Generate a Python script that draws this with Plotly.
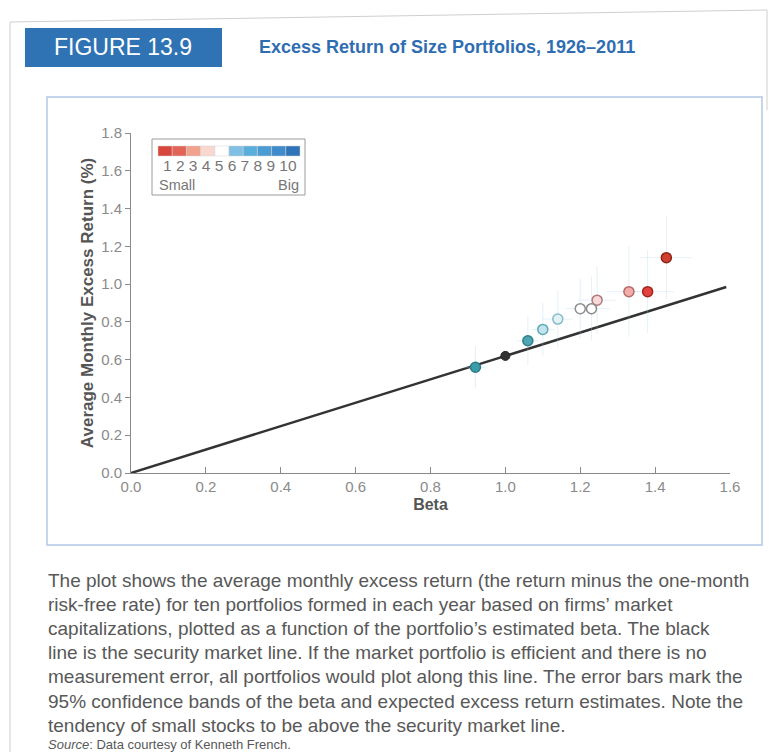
import plotly.graph_objects as go

# size portfolios, 1 = small ... 10 = big
portfolios = ["1", "2", "3", "4", "5", "6", "7", "8", "9", "10"]
beta = [1.43, 1.38, 1.33, 1.245, 1.23, 1.20, 1.14, 1.10, 1.06, 0.92]
excess_return = [1.14, 0.96, 0.96, 0.915, 0.87, 0.87, 0.815, 0.76, 0.70, 0.56]
beta_err = [0.07, 0.07, 0.06, 0.05, 0.05, 0.04, 0.04, 0.03, 0.03, 0.03]
return_err = [0.22, 0.22, 0.24, 0.18, 0.17, 0.16, 0.15, 0.14, 0.13, 0.11]
marker_fill = ["#d0402f", "#e2433f", "#f2adab", "#f7d9d9", "#ffffff",
               "#ffffff", "#e2f1f4", "#c4e4ec", "#4ea6b5", "#3c9ba8"]
marker_edge = ["#8f2318", "#a3241f", "#b56a66", "#b07a7a", "#8a8a8a",
               "#8f8f8f", "#86bccb", "#5ea9ba", "#2f7f8c", "#2b7c88"]

legend_colors = ["#d8473b", "#e26456", "#f0a28c", "#fad8d0", "#ffffff",
                 "#7fc0e4", "#5aaedc", "#4a9cd4", "#3f8ccc", "#2f74b8"]

market_beta = [1.0]
market_return = [0.62]

sml_beta = [0.0, 1.59]
sml_return = [0.0, 0.985]

caption_lines = [
    "The plot shows the average monthly excess return (the return minus the one-month",
    "risk-free rate) for ten portfolios formed in each year based on firms’ market",
    "capitalizations, plotted as a function of the portfolio’s estimated beta. The black",
    "line is the security market line. If the market portfolio is efficient and there is no",
    "measurement error, all portfolios would plot along this line. The error bars mark the",
    "95% confidence bands of the beta and expected excess return estimates. Note the",
    "tendency of small stocks to be above the security market line.",
]

# plot area in pixels
PL, PR, PT, PB = 131, 730, 133, 473


def px(x):
    return (x - PL) / (PR - PL)


def py(y):
    return (PB - y) / (PB - PT)


fig = go.Figure()

fig.add_trace(go.Scatter(
    x=sml_beta, y=sml_return, mode="lines",
    line=dict(color="#333333", width=2.5),
    cliponaxis=False, hoverinfo="skip",
))

fig.add_trace(go.Scatter(
    x=beta, y=excess_return, mode="markers",
    text=portfolios,
    error_x=dict(type="data", array=beta_err, color="rgba(170,210,232,0.3)",
                 thickness=1, width=0),
    error_y=dict(type="data", array=return_err, color="rgba(170,210,232,0.3)",
                 thickness=1, width=0),
    marker=dict(size=10, color=marker_fill,
                line=dict(color=marker_edge, width=1.5)),
))

fig.add_trace(go.Scatter(
    x=market_beta, y=market_return, mode="markers",
    marker=dict(size=9, color="#333333", line=dict(color="#222222", width=1)),
))

shapes = []
annotations = []

# page edges from the scan
shapes.append(dict(type="path", xref="paper", yref="paper",
                   path=f"M {px(10)},{py(752)} L {px(10)},{py(22)} L {px(767)},{py(10)} L {px(767)},{py(110)}",
                   line=dict(color="#cfcfcf", width=1)))

# outer frame around the chart
shapes.append(dict(type="rect", xref="paper", yref="paper",
                   x0=px(47), x1=px(762), y0=py(545), y1=py(97),
                   line=dict(color="#b3c7e6", width=1.5), layer="below"))

# figure header
shapes.append(dict(type="rect", xref="paper", yref="paper",
                   x0=px(25), x1=px(222), y0=py(67), y1=py(28),
                   fillcolor="#2f73b4", line=dict(width=0)))
annotations.append(dict(text="FIGURE 13.9", xref="paper", yref="paper",
                        x=px(123), y=py(47), xanchor="center", yanchor="middle",
                        showarrow=False,
                        font=dict(family="Liberation Sans", size=23, color="white")))
annotations.append(dict(text="<b>Excess Return of Size Portfolios, 1926–2011</b>",
                        xref="paper", yref="paper", x=px(257), y=py(47),
                        xanchor="left", yanchor="middle", showarrow=False,
                        font=dict(family="Liberation Sans", size=18, color="#2f6db2")))

# size legend
shapes.append(dict(type="rect", xref="paper", yref="paper",
                   x0=px(152), x1=px(305), y0=py(195), y1=py(139),
                   fillcolor="white", line=dict(color="#9a9a9a", width=1)))
cell_w = (300 - 158) / len(legend_colors)
for i, c in enumerate(legend_colors):
    x0 = 158 + i * cell_w
    shapes.append(dict(type="rect", xref="paper", yref="paper",
                       x0=px(x0), x1=px(x0 + cell_w), y0=py(156), y1=py(146),
                       fillcolor=c, line=dict(color="#d0d0d0", width=0.5)))
annotations.append(dict(text=" ".join(portfolios), xref="paper", yref="paper",
                        x=px(230), y=py(175), xanchor="center", yanchor="bottom",
                        showarrow=False, borderpad=0,
                        font=dict(family="Liberation Sans", size=15.5, color="#777777")))
annotations.append(dict(text="Small", xref="paper", yref="paper", x=px(158), y=py(175.5),
                        xanchor="left", yanchor="top", showarrow=False, borderpad=0,
                        font=dict(family="Liberation Sans", size=14.5, color="#777777")))
annotations.append(dict(text="Big", xref="paper", yref="paper", x=px(300), y=py(175.5),
                        xanchor="right", yanchor="top", showarrow=False, borderpad=0,
                        font=dict(family="Liberation Sans", size=14.5, color="#777777")))

# caption below the frame
for i, line in enumerate(caption_lines):
    annotations.append(dict(text=line, xref="paper", yref="paper",
                            x=px(46), y=py(580 + i * 24.2), xanchor="left",
                            yanchor="middle", showarrow=False,
                            font=dict(family="Liberation Sans", size=19, color="#585858")))
annotations.append(dict(text="<i>Source</i>: Data courtesy of Kenneth French.",
                        xref="paper", yref="paper", x=px(46), y=py(744),
                        xanchor="left", yanchor="middle", showarrow=False,
                        font=dict(family="Liberation Sans", size=13, color="#585858")))

fig.update_layout(
    width=774, height=752,
    margin=dict(l=PL, r=774 - PR, t=PT, b=752 - PB),
    paper_bgcolor="white", plot_bgcolor="white",
    showlegend=False,
    shapes=shapes, annotations=annotations,
    font=dict(family="Liberation Sans"),
)
fig.update_xaxes(
    range=[0, 1.6], dtick=0.2, tickformat=".1f",
    showgrid=False, zeroline=False, showline=True, linecolor="#8a8a8a", linewidth=1,
    ticks="inside", ticklen=6, tickcolor="#8a8a8a",
    tickfont=dict(size=15, color="#8a8a8a"),
    title=dict(text="<b>Beta</b>", standoff=4, font=dict(size=16, color="#555555")),
)
fig.update_yaxes(
    range=[0, 1.8], dtick=0.2, tickformat=".1f",
    showgrid=False, zeroline=False, showline=True, linecolor="#8a8a8a", linewidth=1,
    ticks="outside", ticklen=5, tickcolor="#8a8a8a",
    tickfont=dict(size=15, color="#8a8a8a"),
    title=dict(text="<b>Average Monthly Excess Return (%)</b>", standoff=3,
               font=dict(size=17, color="#555555")),
)

# drop the default page margin so the figure sits at the window's corner
fig.write_html("out.html", config={"displayModeBar": False},
               post_script="document.body.style.margin='0';document.body.style.overflow='hidden';")
